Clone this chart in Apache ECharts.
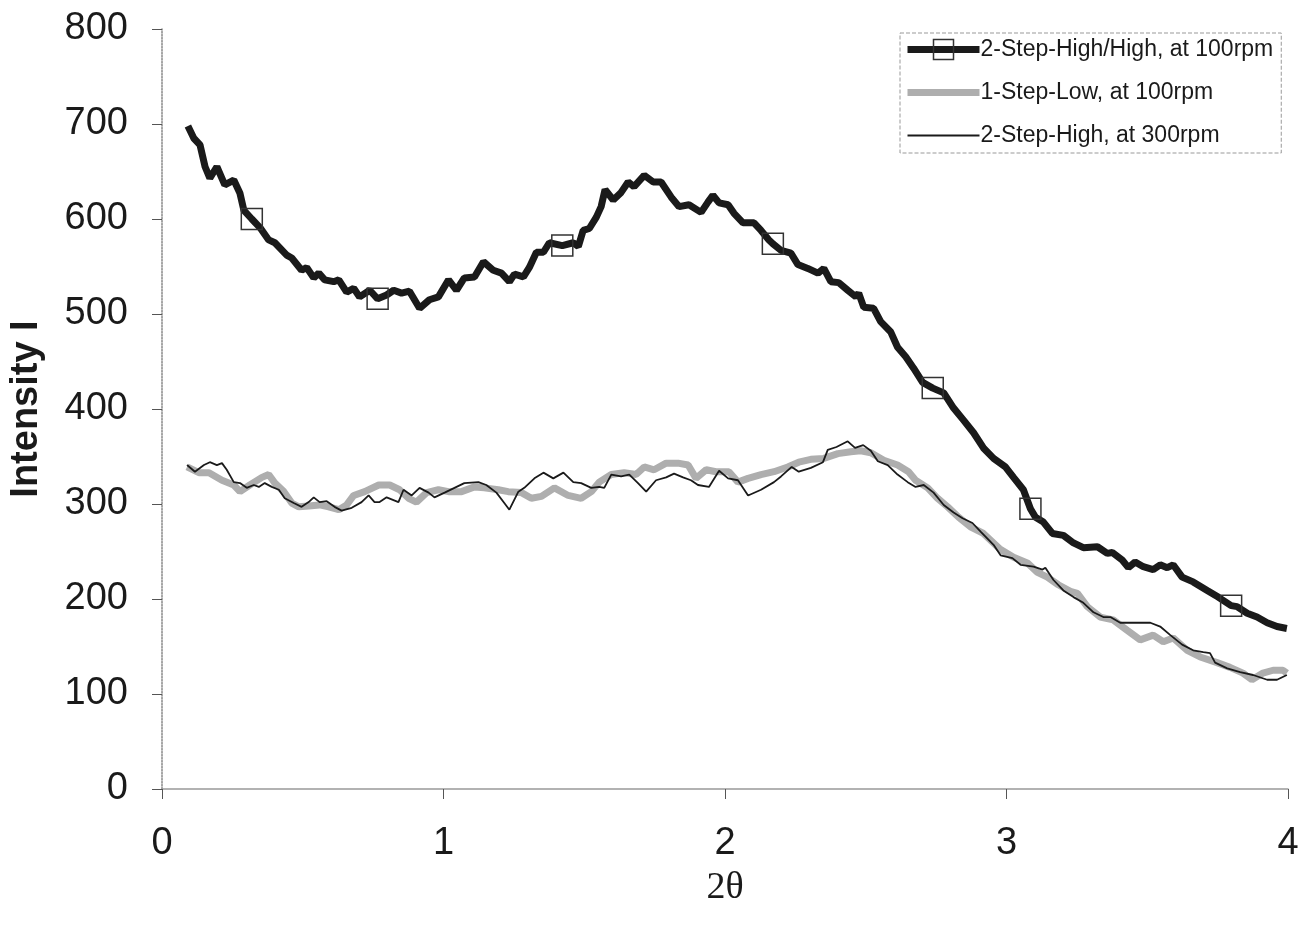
<!DOCTYPE html>
<html>
<head>
<meta charset="utf-8">
<script src="https://cdn.jsdelivr.net/npm/echarts@6/dist/echarts.min.js"></script>
<style>
  html, body { margin: 0; padding: 0; background: #fff; }
  #plot { width: 1302px; height: 930px; }
</style>
</head>
<body>
<div id="plot"></div>
<script>
// 2-Step-High/High, at 100rpm
var hhX = [0.092, 0.113, 0.135, 0.153, 0.170, 0.195, 0.223, 0.255, 0.277, 0.291,
  0.319, 0.348, 0.379, 0.401, 0.443, 0.461, 0.496, 0.514, 0.539, 0.557,
  0.578, 0.610, 0.628, 0.656, 0.681, 0.702, 0.738, 0.766, 0.798, 0.823,
  0.851, 0.879, 0.915, 0.950, 0.982, 1.018, 1.046, 1.074, 1.110, 1.142,
  1.177, 1.206, 1.234, 1.252, 1.284, 1.305, 1.330, 1.355, 1.376, 1.422,
  1.461, 1.479, 1.496, 1.518, 1.543, 1.560, 1.574, 1.603, 1.631, 1.656,
  1.677, 1.713, 1.745, 1.773, 1.809, 1.837, 1.872, 1.915, 1.940, 1.957,
  1.979, 2.011, 2.032, 2.064, 2.103, 2.128, 2.156, 2.170, 2.199, 2.234,
  2.259, 2.294, 2.330, 2.351, 2.376, 2.404, 2.436, 2.465, 2.475, 2.493,
  2.528, 2.553, 2.589, 2.613, 2.642, 2.670, 2.702, 2.738, 2.777, 2.812,
  2.848, 2.883, 2.918, 2.954, 2.996, 3.025, 3.060, 3.085, 3.103, 3.131,
  3.163, 3.202, 3.238, 3.273, 3.323, 3.358, 3.376, 3.411, 3.433, 3.457,
  3.486, 3.521, 3.546, 3.571, 3.592, 3.624, 3.663, 3.713, 3.752, 3.798,
  3.819, 3.855, 3.890, 3.926, 3.961, 3.996];
var hhY = [698, 685, 678, 655, 643, 655, 636, 641, 627, 609,
  600, 591, 578, 575, 562, 559, 546, 549, 538, 543,
  536, 534, 536, 523, 527, 518, 525, 516, 520, 525,
  522, 524, 506, 515, 518, 536, 525, 538, 539, 555,
  546, 543, 534, 542, 539, 549, 565, 565, 575, 572,
  575, 571, 588, 590, 602, 613, 631, 620, 628, 639,
  634, 646, 639, 639, 623, 613, 615, 607, 618, 625,
  617, 615, 606, 596, 596, 588, 578, 574, 567, 564,
  552, 548, 543, 548, 534, 533, 525, 518, 522, 507,
  506, 492, 481, 465, 455, 443, 428, 422, 417, 401,
  388, 375, 359, 348, 339, 328, 315, 295, 286, 281,
  269, 267, 259, 254, 255, 248, 249, 241, 233, 239,
  234, 231, 236, 233, 236, 223, 218, 209, 202, 193,
  192, 185, 181, 175, 171, 169];
// x positions that carry a square marker
var hhMarks = [0.319, 0.766, 1.422, 2.170, 2.738, 3.085, 3.798];

// 1-Step-Low, at 100rpm
var lowX = [0.089, 0.131, 0.167, 0.213, 0.255, 0.277, 0.312, 0.355, 0.379, 0.401,
  0.433, 0.461, 0.486, 0.521, 0.560, 0.592, 0.628, 0.656, 0.681, 0.720,
  0.770, 0.809, 0.844, 0.876, 0.904, 0.940, 0.982, 1.018, 1.064, 1.110,
  1.145, 1.195, 1.230, 1.277, 1.312, 1.348, 1.394, 1.443, 1.489, 1.525,
  1.553, 1.596, 1.642, 1.684, 1.713, 1.748, 1.791, 1.833, 1.869, 1.897,
  1.933, 1.968, 2.014, 2.046, 2.082, 2.128, 2.174, 2.223, 2.262, 2.305,
  2.351, 2.401, 2.447, 2.482, 2.518, 2.564, 2.613, 2.652, 2.677, 2.720,
  2.755, 2.791, 2.830, 2.872, 2.918, 2.975, 3.025, 3.074, 3.110, 3.145,
  3.184, 3.227, 3.252, 3.287, 3.333, 3.379, 3.429, 3.475, 3.521, 3.557,
  3.592, 3.642, 3.688, 3.748, 3.794, 3.840, 3.872, 3.911, 3.947, 3.982,
  3.996];
var lowY = [339, 333, 333, 325, 320, 313, 320, 328, 331, 322,
  313, 301, 297, 298, 299, 297, 294, 299, 309, 313,
  320, 320, 315, 306, 302, 312, 315, 313, 313, 318,
  317, 315, 313, 312, 306, 308, 317, 309, 306, 313,
  323, 331, 333, 331, 339, 336, 343, 343, 341, 327,
  336, 334, 334, 323, 327, 331, 334, 339, 344, 347,
  348, 353, 355, 356, 354, 346, 341, 334, 325, 317,
  306, 297, 286, 276, 269, 253, 244, 238, 228, 223,
  215, 208, 206, 192, 181, 178, 167, 157, 162, 155,
  159, 146, 139, 133, 128, 122, 115, 122, 125, 125,
  122];

// 2-Step-High, at 300rpm
var hiX = [0.089, 0.117, 0.149, 0.170, 0.195, 0.213, 0.230, 0.255, 0.277, 0.301,
  0.326, 0.344, 0.365, 0.390, 0.415, 0.436, 0.468, 0.496, 0.521, 0.539,
  0.560, 0.585, 0.613, 0.638, 0.674, 0.709, 0.734, 0.755, 0.773, 0.798,
  0.840, 0.858, 0.887, 0.915, 0.947, 0.968, 1.004, 1.039, 1.074, 1.124,
  1.152, 1.188, 1.216, 1.234, 1.266, 1.287, 1.323, 1.355, 1.390, 1.426,
  1.461, 1.489, 1.525, 1.553, 1.571, 1.596, 1.631, 1.660, 1.691, 1.720,
  1.755, 1.791, 1.819, 1.851, 1.879, 1.904, 1.943, 1.979, 2.011, 2.046,
  2.082, 2.128, 2.174, 2.199, 2.237, 2.262, 2.305, 2.348, 2.365, 2.396,
  2.436, 2.462, 2.491, 2.518, 2.543, 2.578, 2.613, 2.649, 2.677, 2.706,
  2.741, 2.777, 2.812, 2.844, 2.879, 2.908, 2.954, 2.979, 3.021, 3.050,
  3.096, 3.128, 3.138, 3.167, 3.202, 3.238, 3.273, 3.309, 3.344, 3.369,
  3.404, 3.450, 3.511, 3.546, 3.582, 3.624, 3.663, 3.699, 3.723, 3.741,
  3.784, 3.830, 3.876, 3.926, 3.961, 3.996];
var hiY = [341, 334, 341, 344, 341, 343, 336, 323, 322, 317,
  320, 318, 322, 318, 315, 306, 301, 297, 302, 307,
  302, 303, 297, 293, 296, 302, 309, 302, 302, 307,
  302, 315, 309, 317, 312, 307, 312, 317, 322, 323,
  320, 312, 301, 294, 313, 317, 327, 333, 327, 333,
  323, 322, 317, 318, 317, 331, 329, 331, 322, 313,
  325, 328, 332, 328, 325, 320, 318, 335, 327, 325,
  309, 315, 323, 329, 339, 334, 338, 344, 357, 360,
  366, 359, 362, 356, 345, 341, 331, 323, 318, 320,
  312, 299, 291, 285, 280, 271, 257, 246, 243, 236,
  234, 231, 233, 220, 209, 202, 196, 186, 181, 181,
  175, 175, 175, 171, 162, 152, 146, 144, 143, 133,
  127, 123, 120, 115, 115, 120];

var seriesNames = ['2-Step-High/High, at 100rpm', '1-Step-Low, at 100rpm', '2-Step-High, at 300rpm'];
var xTicks = { min: 0, max: 4, interval: 1 };
var yTicks = { min: 0, max: 800, interval: 100 };

function pairs(xs, ys) {
  return xs.map(function (x, i) { return [x, ys[i]]; });
}

var hhData = hhX.map(function (x, i) {
  return {
    value: [x, hhY[i]],
    symbol: hhMarks.indexOf(x) >= 0 ? 'rect' : 'none'
  };
});

var myChart = echarts.init(document.getElementById('plot'));

var textColor = '#1a1a1a';
var darkLine = '#1a1a1a';
var greyLine = '#aeaeae';

var option = {
  animation: false,
  backgroundColor: '#fff',
  textStyle: { fontFamily: 'Liberation Sans, Arial, sans-serif', color: textColor },
  grid: { left: 156, right: 14, top: 29, bottom: 141, containLabel: false },
  legend: {
    data: [
      {
        name: seriesNames[0],
        lineStyle: { color: darkLine, width: 7 },
        itemStyle: { color: 'rgba(255,255,255,0)', borderColor: '#333', borderWidth: 1.5 }
      },
      {
        name: seriesNames[1],
        lineStyle: { color: greyLine, width: 7 },
        itemStyle: { opacity: 0 }
      },
      {
        name: seriesNames[2],
        lineStyle: { color: darkLine, width: 1.8 },
        itemStyle: { opacity: 0 }
      }
    ],
    orient: 'vertical',
    left: 900,
    top: 33,
    padding: [5, 8, 6, 4],
    itemWidth: 72,
    itemHeight: 25,
    itemGap: 20,
    borderColor: '#999',
    borderWidth: 1,
    borderType: 'dashed',
    textStyle: { fontSize: 23, color: textColor, padding: [0, 0, 0, -4] }
  },
  xAxis: {
    type: 'value',
    min: xTicks.min,
    max: xTicks.max,
    interval: xTicks.interval,
    name: '2θ',
    nameLocation: 'middle',
    nameGap: 80,
    nameTextStyle: { fontFamily: 'Liberation Serif, Times New Roman, serif', fontSize: 38, color: textColor },
    axisLine: { lineStyle: { color: '#999', width: 1.5 } },
    axisTick: { length: 10, lineStyle: { color: '#555' } },
    axisLabel: { fontSize: 38, margin: 36, color: textColor },
    splitLine: { show: false }
  },
  yAxis: {
    type: 'value',
    min: yTicks.min,
    max: yTicks.max,
    interval: yTicks.interval,
    name: 'Intensity I',
    nameLocation: 'middle',
    nameGap: 116,
    nameTextStyle: { fontSize: 38, fontWeight: 'bold', color: textColor },
    axisLine: { show: true, lineStyle: { color: '#888', type: 'dotted', width: 1.5 } },
    axisTick: { show: true, length: 10, lineStyle: { color: '#555' } },
    axisLabel: { fontSize: 38, margin: 34, color: textColor },
    splitLine: { show: false }
  },
  series: [
    {
      name: seriesNames[0],
      type: 'line',
      data: hhData,
      symbol: 'rect',
      symbolSize: 21,
      showSymbol: true,
      showAllSymbol: true,
      z: 4,
      lineStyle: { color: darkLine, width: 7 },
      itemStyle: { color: 'rgba(255,255,255,0)', borderColor: '#333', borderWidth: 1.5 }
    },
    {
      name: seriesNames[1],
      type: 'line',
      data: pairs(lowX, lowY),
      symbol: 'none',
      z: 2,
      lineStyle: { color: greyLine, width: 7 },
      itemStyle: { color: greyLine }
    },
    {
      name: seriesNames[2],
      type: 'line',
      data: pairs(hiX, hiY),
      symbol: 'none',
      z: 3,
      lineStyle: { color: darkLine, width: 1.8 },
      itemStyle: { color: darkLine }
    }
  ]
};

myChart.setOption(option);
</script>
</body>
</html>
